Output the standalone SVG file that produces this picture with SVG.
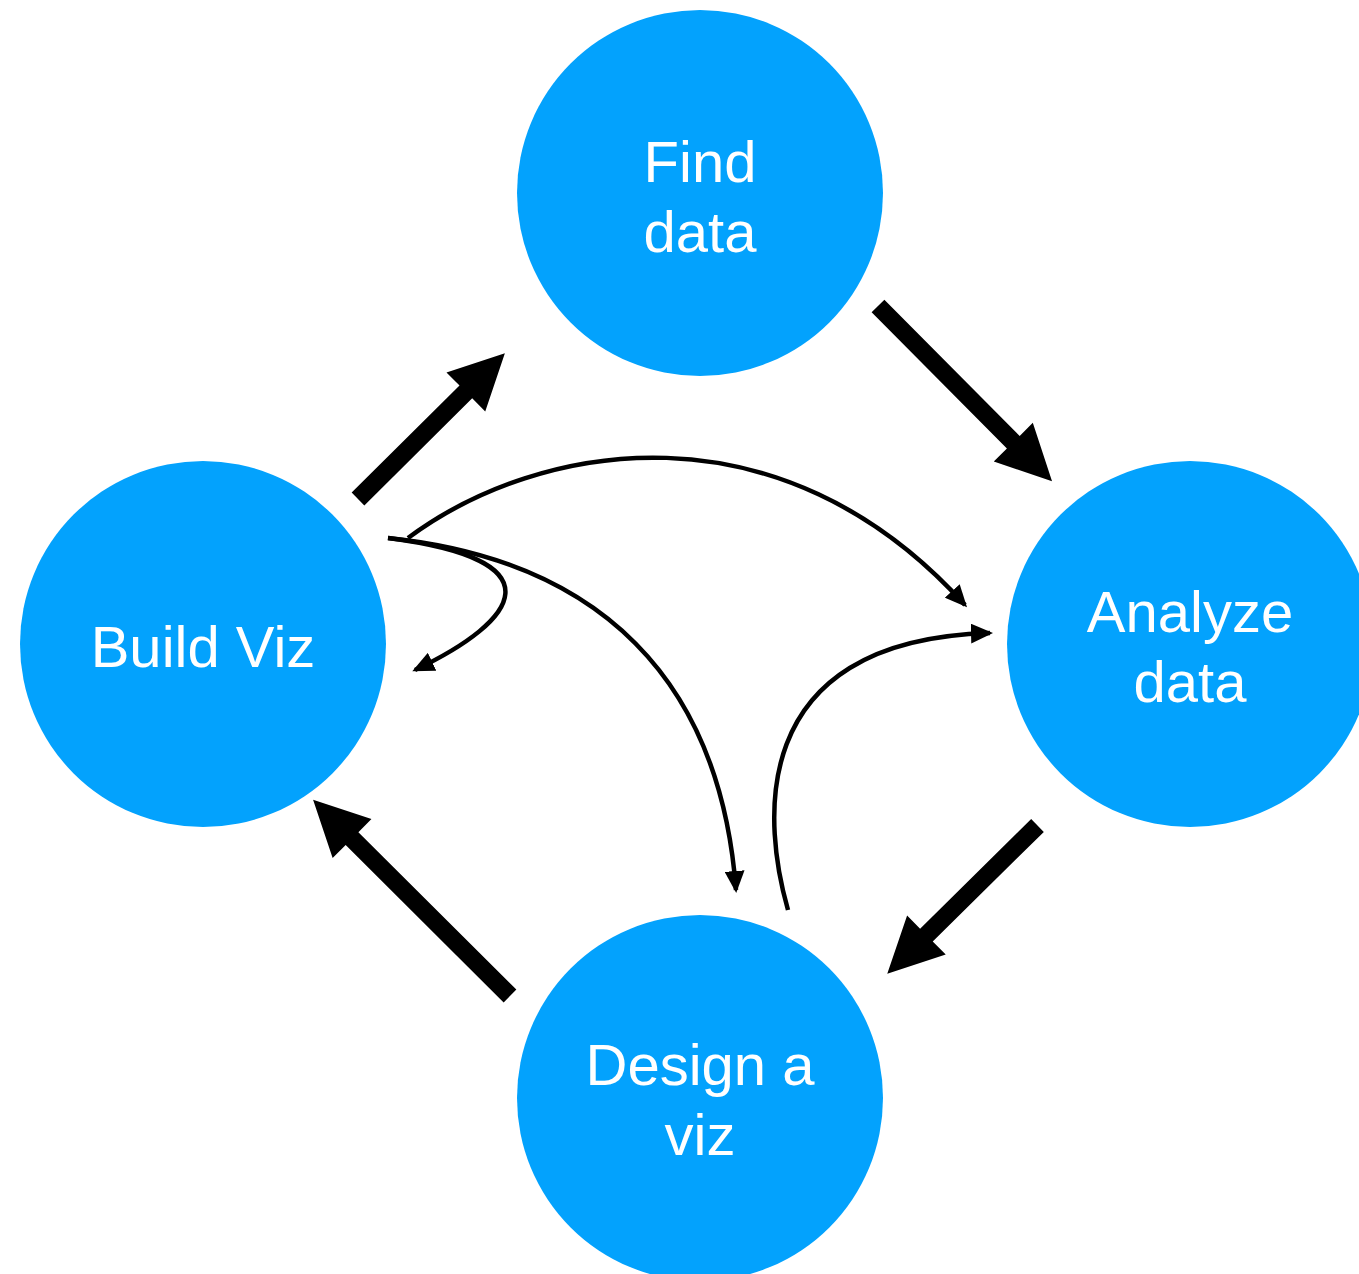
<svg xmlns="http://www.w3.org/2000/svg" width="1359" height="1274" viewBox="0 0 1359 1274">
  <defs>
    <style>
      .node { fill: #03A2FD; }
      .label { fill: #ffffff; font-family: "Liberation Sans", Arial, sans-serif; font-size: 58px; text-anchor: middle; }
      .big { fill: #000000; }
      .thin { fill: none; stroke: #000000; stroke-width: 4.5; }
    </style>
    <marker id="tip" viewBox="0 0 22 20" refX="19" refY="10" markerWidth="22" markerHeight="20" markerUnits="userSpaceOnUse" orient="auto">
      <path d="M0,0 L22,10 L0,20 Z" fill="#000000"/>
    </marker>
  </defs>

  <rect width="1359" height="1274" fill="#ffffff"/>

  <g id="find-data">
    <circle class="node" cx="700" cy="193" r="183"/>
    <text class="label" x="700" y="182">Find</text>
    <text class="label" x="700" y="252">data</text>
  </g>

  <g id="build-viz">
    <circle class="node" cx="203" cy="644" r="183"/>
    <text class="label" x="203" y="667">Build Viz</text>
  </g>

  <g id="analyze-data">
    <circle class="node" cx="1190" cy="644" r="183"/>
    <text class="label" x="1190" y="632">Analyze</text>
    <text class="label" x="1190" y="702">data</text>
  </g>

  <g id="design-viz">
    <circle class="node" cx="700" cy="1098" r="183"/>
    <text class="label" x="700" y="1085">Design a</text>
    <text class="label" x="700" y="1155">viz</text>
  </g>

  <g id="connectors">
    <!-- main cycle: block arrows, drawn along +x then placed -->
    <polygon class="big" transform="translate(358,499) rotate(-44.8)" points="0,-9 152,-9 152,-27.5 207,0 152,27.5 152,9 0,9"/>
    <polygon class="big" transform="translate(878,306) rotate(45.2)" points="0,-9 192,-9 192,-27.5 247,0 192,27.5 192,9 0,9"/>
    <polygon class="big" transform="translate(1037.5,825.5) rotate(135.4)" points="0,-9 156,-9 156,-27.5 211,0 156,27.5 156,9 0,9"/>
    <polygon class="big" transform="translate(510,996) rotate(-135.1)" points="0,-9 223,-9 223,-27.5 278,0 223,27.5 223,9 0,9"/>

    <!-- feedback curves -->
    <path class="thin" d="M408,538 C540,440 780,400 965,605" marker-end="url(#tip)"/>
    <path class="thin" d="M388,538 C600,560 720,680 736,890" marker-end="url(#tip)"/>
    <path class="thin" d="M388,538 C560,560 520,620 415,670" marker-end="url(#tip)"/>
    <path class="thin" d="M788,910 C765,830 740,640 990,633" marker-end="url(#tip)"/>
  </g>
</svg>
